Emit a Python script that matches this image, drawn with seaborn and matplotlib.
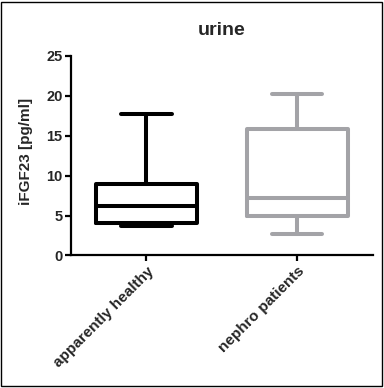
import numpy as np
import pandas as pd
import matplotlib
matplotlib.use("Agg")
import matplotlib.pyplot as plt
import seaborn as sns
from matplotlib.patches import Rectangle

# five-number summaries (min, q1, median, q3, max)
groups = ["apparently healthy", "nephro patients"]
healthy = [3.65, 4.1, 6.15, 9.0, 17.65]
nephro = [2.65, 4.95, 7.15, 15.85, 20.15]
colors = ["#000000", "#a3a3a7"]

y_ticks = [0, 5, 10, 15, 20, 25]

df = pd.DataFrame({
    "group": [groups[0]] * len(healthy) + [groups[1]] * len(nephro),
    "value": healthy + nephro,
})

sns.set_style("ticks")
plt.rcParams["font.family"] = ["Liberation Sans", "DejaVu Sans"]
plt.rcParams["font.weight"] = "bold"

fig = plt.figure(figsize=(3.84, 3.88), dpi=100)
ax = fig.add_axes([0.185, 0.3415, 0.7856, 0.5149])

sns.boxplot(data=df, x="group", y="value", hue="group", palette=colors,
            order=groups, hue_order=groups, fill=False, whis=(0, 100),
            width=0.667, linewidth=2.9, legend=False, ax=ax)

ax.set_xlim(-0.5, 1.5)
ax.set_ylim(0, 25)
ax.set_yticks(y_ticks)
ax.set_yticklabels([str(t) for t in y_ticks])
ax.set_xlabel("")
ax.set_ylabel("iFGF23 [pg/ml]", fontsize=11, fontweight="bold")
ax.yaxis.set_label_coords(-0.125, 0.52)
ax.set_title("urine", fontsize=14, fontweight="bold", pad=15)

sns.despine(ax=ax)
for s in ["left", "bottom"]:
    ax.spines[s].set_linewidth(1.6)
    ax.spines[s].set_color("black")
ax.tick_params(axis="both", width=1.6, length=4, color="black", pad=2,
               labelsize=10.5)
for lab in ax.get_yticklabels():
    lab.set_fontweight("bold")
for lab in ax.get_xticklabels():
    lab.set_fontweight("bold")
    lab.set_fontsize(11)
    lab.set_rotation(45)
    lab.set_ha("right")
    lab.set_rotation_mode("anchor")

fig.patches.append(Rectangle((0.002, 0.004), 0.993, 0.992, transform=fig.transFigure,
                             fill=False, edgecolor="black", linewidth=1.0))

fig.savefig("out.png", dpi=100)
